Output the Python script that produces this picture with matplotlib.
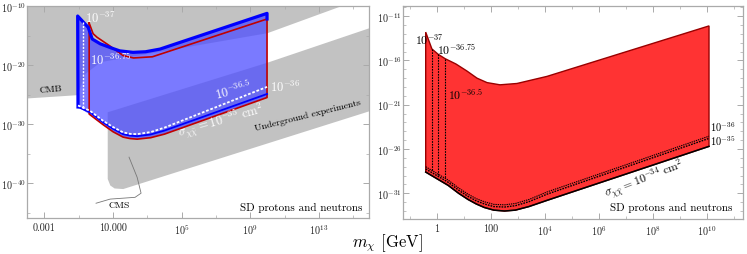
import numpy as np
import matplotlib.pyplot as plt

plt.rcParams['font.family'] = 'cmr10'
plt.rcParams['mathtext.fontset'] = 'cm'
plt.rcParams['axes.formatter.use_mathtext'] = True

# ---------------- data (log10 of m_chi [GeV] and sigma [cm^2]) ----------------
# left panel: excluded regions
cmb_lx = [-4.2, -1.05, -0.6, 0.3, 10.0, 16.5]
cmb_ly = [-25.7, -25.1, -21.5, -19.5, -14.6, -7.7]
ug_top_lx = [0.7, 10.0, 16.5]
ug_top_ly = [-28.0, -19.6, -13.2]
ug_bot_lx = [16.5, 1.6, 1.1, 0.85, 0.7]
ug_bot_ly = [-27.3, -41.0, -40.9, -40.4, -39.3]
cms_lx = [0.02, 0.84, 2.29, 2.64, 2.41, 1.94]
cms_ly = [-43.4, -42.7, -42.4, -41.7, -39.0, -35.6]

# left panel: allowed region, blue (sigma = 1e-37 ... 1e-35)
blue_top_lx = [-1.05, -0.44, -0.2, 0.26, 0.9, 1.4, 2.17, 2.9, 3.74, 9.97]
blue_top_ly = [-11.7, -13.6, -15.6, -16.4, -17.1, -17.6, -17.85, -17.75, -17.3, -11.25]
blue_bot_lx = [-1.03, -0.33, 0.43, 1.01, 1.59, 2.0, 2.41, 3.2, 4.0, 9.97]
blue_bot_ly = [-27.1, -28.0, -29.7, -30.8, -31.7, -31.95, -32.05, -31.75, -31.1, -24.9]
wdash_bot_ly = [-26.85, -27.75, -29.45, -30.5, -31.4, -31.65, -31.7, -31.35, -30.6, -23.7]
wdash_vert_lx = -0.73
wdash_vert_ly = [-12.7, -27.3]

# left panel: red contour
redl_top_lx = [-0.38, -0.15, 0.08, 0.84, 1.6, 2.2, 3.3, 9.97]
redl_top_ly = [-12.9, -14.7, -15.3, -16.8, -18.4, -18.8, -18.6, -12.2]
redl_bot_lx = [-0.38, 0.43, 1.01, 1.59, 2.0, 2.41, 3.2, 4.0, 9.97]
redl_bot_ly = [-28.3, -30.1, -31.3, -32.2, -32.45, -32.55, -32.3, -31.7, -25.5]

# right panel: allowed region, red
red_top_lx = [-0.42, -0.19, 0.04, 0.3, 0.7, 1.11, 1.48, 1.85, 2.33, 2.96, 4.07, 10.07]
red_top_ly = [-12.8, -14.7, -15.3, -15.8, -16.4, -17.2, -18.0, -18.5, -18.75, -18.6, -17.8, -12.1]
red_bot_lx = [-0.42, 0.41, 0.8, 1.15, 1.45, 1.75, 2.1, 2.5, 2.9, 3.4, 4.07, 10.07]
sig34_ly = [-28.6, -30.1, -31.0, -31.7, -32.2, -32.6, -32.9, -33.0, -32.9, -32.5, -31.8, -25.7]
sig35_ly = [-28.25, -29.75, -30.65, -31.35, -31.85, -32.2, -32.5, -32.55, -32.4, -31.95, -31.1, -24.8]
sig36_ly = [-28.0, -29.5, -30.4, -31.1, -31.6, -31.95, -32.25, -32.3, -32.15, -31.7, -30.85, -24.55]
vert_lx = [-0.19, 0.04, 0.30]
vert_top_ly = [-14.7, -15.3, -15.8]
vert_bot_ly = [-28.5, -28.9, -29.3]

# ticks
left_xt = [-3, 1, 5, 9, 13]
left_xl = ['0.001', '10.000', r'$10^{5}$', r'$10^{9}$', r'$10^{13}$']
left_yt = [-10, -20, -30, -40]
right_xt = [0, 2, 4, 6, 8, 10]
right_xl = ['1', '100', r'$10^{4}$', r'$10^{6}$', r'$10^{8}$', r'$10^{10}$']
right_yt = [-11, -16, -21, -26, -31]


def p(a):
    return 10.0 ** np.asarray(a, dtype=float)


fig = plt.figure(figsize=(7.47, 2.55), dpi=100)
ax1 = fig.add_axes([0.0361, 0.1412, 0.4578, 0.8314])
ax2 = fig.add_axes([0.5395, 0.1373, 0.4552, 0.8353])

frame_c = '#aaaaaa'
for ax in (ax1, ax2):
    ax.set_xscale('log')
    ax.set_yscale('log')
    for s in ax.spines.values():
        s.set_color(frame_c)
        s.set_linewidth(0.9)
    ax.tick_params(which='both', direction='in', top=True, right=True,
                   color=frame_c, labelsize=7.3, labelcolor='#222222')
    ax.tick_params(axis='x', pad=3)
    ax.tick_params(axis='y', pad=1)
    ax.tick_params(which='major', length=4, width=0.7)
    ax.tick_params(which='minor', length=2, width=0.5)

# ---------------- left panel ----------------
gray = '#c2c2c2'
ax1.fill(p(cmb_lx + [16.5, -4.2]), p(cmb_ly + [-5, -5]), color=gray, lw=0, zorder=1)
ax1.fill(p(ug_top_lx + ug_bot_lx), p(ug_top_ly + ug_bot_ly), color=gray, lw=0, zorder=1)
ax1.plot(p(cms_lx), p(cms_ly), color='#777777', lw=0.6, zorder=2)

# blue region polygon: blue top, then red bottom back, then blue bottom left part
poly_lx = blue_top_lx + redl_bot_lx[::-1] + [blue_bot_lx[0]]
poly_ly = blue_top_ly + redl_bot_ly[::-1] + [blue_bot_ly[0]]
ax1.fill(p(poly_lx), p(poly_ly), color=(0.3, 0.3, 1.0), alpha=0.75, lw=0, zorder=3)

# red contour
rl_x = redl_top_lx + redl_bot_lx[::-1] + [redl_top_lx[0]]
rl_y = redl_top_ly + redl_bot_ly[::-1] + [redl_top_ly[0]]
ax1.plot(p(rl_x), p(rl_y), color='#c00000', lw=1.2, zorder=4)

# blue contour
ax1.plot(p([blue_bot_lx[0]] + blue_top_lx + [blue_top_lx[-1]]),
         p([blue_bot_ly[0]] + blue_top_ly + [redl_top_ly[-1]]),
         color='#0000ff', lw=2.3, solid_joinstyle='round', zorder=5)
ax1.plot(p(blue_bot_lx), p(blue_bot_ly), color='#0000ff', lw=1.3, zorder=5)

# white dashed contours
ax1.plot(p(blue_bot_lx), p(wdash_bot_ly), color='white', lw=1.3, ls=(0, (1.5, 1)), zorder=6)
ax1.plot(p([wdash_vert_lx, wdash_vert_lx]), p(wdash_vert_ly), color='white', lw=1.0,
         ls=(0, (1.5, 1)), zorder=6)

wt = dict(color='white', fontsize=9, zorder=7)
ax1.text(p(-0.62), p(-12.0), r'$10^{-37}$', ha='left', va='center', **wt)
ax1.text(p(-0.33), p(-19.0), r'$10^{-36.75}$', ha='left', va='center', **wt)
ax1.text(p(7.99), p(-24.1), r'$10^{-36.5}$', ha='center', va='center', rotation=15, **wt)
ax1.text(p(10.14), p(-23.7), r'$10^{-36}$', ha='left', va='center', **wt)
ax1.text(p(7.3), p(-29.3), r'$\sigma_{\chi\bar{\chi}}=10^{-35}\ \mathrm{cm}^2$',
         ha='center', va='center', rotation=16, **wt)

ax1.text(p(-2.59), p(-24.1), 'CMB', ha='center', va='center', rotation=5, fontsize=7, zorder=7)
ax1.text(p(12.35), p(-28.5), 'Underground experiments', ha='center', va='center',
         rotation=14, fontsize=7, zorder=7)
ax1.text(p(1.36), p(-43.7), 'CMS', ha='center', va='center', fontsize=7, zorder=7)
ax1.text(0.982, 0.054, 'SD protons and neutrons', transform=ax1.transAxes,
         ha='right', va='center', fontsize=8, zorder=7)

ax1.set_xlim(p(-4.0), p(15.9))
ax1.set_ylim(p(-45.9), p(-10.0))
ax1.set_xticks(p(left_xt), left_xl)
ax1.set_xticks(p([-1, 3, 7, 11, 15]), minor=True)
ax1.set_xticklabels([], minor=True)
ax1.set_yticks(p(left_yt), [r'$10^{%d}$' % t for t in left_yt])
ax1.set_yticks(p([-15, -25, -35, -45]), minor=True)
ax1.set_yticklabels([], minor=True)

# ---------------- right panel ----------------
ax2.fill(p(red_top_lx + red_bot_lx[::-1]), p(red_top_ly + sig34_ly[::-1]),
         facecolor='#ff3333', edgecolor='#990000', lw=1.0, zorder=2)
ax2.plot(p(red_bot_lx), p(sig34_ly), color='black', lw=1.1, zorder=3)
ax2.plot(p(red_bot_lx), p(sig35_ly), color='black', lw=1.0, ls=(0, (1.2, 0.8)), zorder=3)
ax2.plot(p(red_bot_lx), p(sig36_ly), color='black', lw=0.8, ls=(0, (1.2, 0.8)), zorder=3)
for vx, vt, vb in zip(vert_lx, vert_top_ly, vert_bot_ly):
    ax2.plot(p([vx, vx]), p([vt, vb]), color='black', lw=0.8, ls=(0, (1.5, 1)), zorder=3)

bt = dict(color='black', fontsize=8.5, zorder=7)
ax2.text(p(-0.81), p(-13.5), r'$10^{-37}$', ha='left', va='center', **bt)
ax2.text(p(0.0), p(-14.75), r'$10^{-36.75}$', ha='left', va='center', **bt)
ax2.text(p(0.41), p(-19.8), r'$10^{-36.5}$', ha='left', va='center', **bt)
ax2.text(p(10.11), p(-23.4), r'$10^{-36}$', ha='left', va='center', fontsize=7.5, zorder=7)
ax2.text(p(10.11), p(-25.0), r'$10^{-35}$', ha='left', va='center', fontsize=7.5, zorder=7)
ax2.text(p(7.7), p(-29.4), r'$\sigma_{\chi\bar{\chi}}=10^{-34}\ \mathrm{cm}^2$',
         ha='center', va='center', rotation=21, **bt)
ax2.text(0.97, 0.056, 'SD protons and neutrons', transform=ax2.transAxes,
         ha='right', va='center', fontsize=8, zorder=7)

ax2.set_xlim(p(-1.26), p(11.33))
ax2.set_ylim(p(-33.9), p(-9.85))
ax2.set_xticks(p(right_xt), right_xl)
ax2.set_xticks(p([-1, 1, 3, 5, 7, 9, 11]), minor=True)
ax2.set_xticklabels([], minor=True)
ax2.set_yticks(p(right_yt), [r'$10^{%d}$' % t for t in right_yt])
ax2.set_yticks(p([t for t in range(-33, -9) if t not in right_yt]), minor=True)
ax2.set_yticklabels([], minor=True)

fig.text(0.518, 0.047, r'$m_\chi$ [GeV]', ha='center', va='center', fontsize=12)

fig.savefig('out.png', dpi=100)
